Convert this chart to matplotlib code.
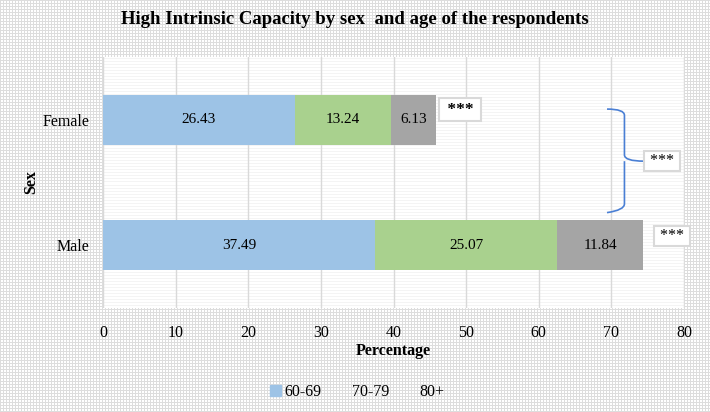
import numpy as np
import matplotlib.pyplot as plt
from matplotlib.path import Path
from matplotlib.patches import PathPatch, Patch

plt.rcParams['font.family'] = ['Liberation Serif', 'DejaVu Serif']

sexes = ['Male', 'Female']
age_groups = ['60-69', '70-79', '80+']
values = {
    '60-69': [37.49, 26.43],
    '70-79': [25.07, 13.24],
    '80+': [11.84, 6.13],
}
colors = ['#9DC3E6', '#A9D18E', '#A5A5A5']
stars = ' *** '

W, H = 710, 412
fig = plt.figure(figsize=(W / 100, H / 100), dpi=100)

# graph-paper look of the background
bg = np.ones((H, W, 3))
bg[::3, :, :] = 0.87
bg[:, ::3, :] = 0.87
fig.figimage(bg, 0, 0, zorder=0)

# plot area in pixels: left 103, right 684, top 57, bottom 308
ax = fig.add_axes([103 / W, 1 - 308 / H, (684 - 103) / W, (308 - 57) / H])
ax.set_facecolor('white')
ax.set_zorder(1)
# faint horizontal texture inside the plot area
for yy in np.arange(-0.5, 1.5, 0.024):
    ax.axhline(yy, color='#F2F2F2', lw=0.6, zorder=0)

y = np.arange(len(sexes))
left = np.zeros(len(sexes))
for g, c in zip(age_groups, colors):
    bars = ax.barh(y, values[g], left=left, height=0.4, color=c, label=g, zorder=3)
    ax.bar_label(bars, labels=[f'{v:.2f}' for v in values[g]], label_type='center',
                 fontsize=11, color='black')
    left = left + np.array(values[g])

ax.set_xlim(0, 80)
ax.set_ylim(-0.5, 1.5)
ax.set_xticks(range(0, 81, 10))
ax.set_yticks(y)
ax.set_yticklabels(sexes)
ax.tick_params(length=0, labelsize=11.5, pad=12)
ax.tick_params(axis='y', pad=10)
ax.xaxis.grid(True, color='#D9D9D9', linewidth=1, zorder=0)
for s in ax.spines.values():
    s.set_visible(False)

ax.set_xlabel('Percentage', fontsize=11.5, fontweight='bold', labelpad=2)
ax.set_ylabel('Sex', fontsize=11.5, fontweight='bold')
ax.yaxis.set_label_coords(-0.11, 0.5)
fig.text(355 / W, 1 - 20 / H,
         'High Intrinsic Capacity by sex  and age of the respondents',
         ha='center', va='center', fontsize=13.5, fontweight='bold')

# stars beside each bar
ax.text(left[1] + 1.0, 1.08, stars, fontsize=12.5, fontweight='bold', va='center', ha='left',
        bbox=dict(boxstyle='square,pad=0.2', fc='white', ec='#D9D9D9', lw=1.5), zorder=5)
ax.text(left[0] + 1.7, 0.075, stars, fontsize=11.5, va='center', ha='left',
        bbox=dict(boxstyle='square,pad=0.12', fc='white', ec='#D9D9D9', lw=1.5),
        zorder=5, clip_on=False)

# brace between the two bars
bx0, bx1, bx2 = 69.4, 71.8, 74.5
yt, ym, yb = 1.085, 0.67, 0.28
verts = [(bx0, yt), (bx1, yt), (bx1, yt - 0.05),
         (bx1, ym + 0.05),
         (bx1, ym), (bx2, ym),
         (bx1, ym), (bx1, ym - 0.05),
         (bx1, yb + 0.05),
         (bx1, yb), (bx0, yb - 0.02)]
codes = [Path.MOVETO, Path.CURVE3, Path.CURVE3,
         Path.LINETO,
         Path.CURVE3, Path.CURVE3,
         Path.MOVETO, Path.LINETO,
         Path.LINETO,
         Path.CURVE3, Path.CURVE3]
ax.add_patch(PathPatch(Path(verts, codes), fc='none', ec='#4A7FD4', lw=1.2, zorder=4))
ax.text(bx2 + 0.3, ym, stars, fontsize=11.5, va='center', ha='left',
        bbox=dict(boxstyle='square,pad=0.12', fc='white', ec='#D9D9D9', lw=1.5),
        zorder=5, clip_on=False)

handles = [Patch(color=colors[0]), Patch(color='none'), Patch(color='none')]
fig.legend(handles, age_groups, loc='center', bbox_to_anchor=(357 / W, 1 - 392 / H),
           ncol=3, frameon=False, fontsize=11.5, handlelength=0.7, handleheight=0.7,
           handletextpad=0.2, columnspacing=1.0)

fig.savefig('out.png', dpi=100)
